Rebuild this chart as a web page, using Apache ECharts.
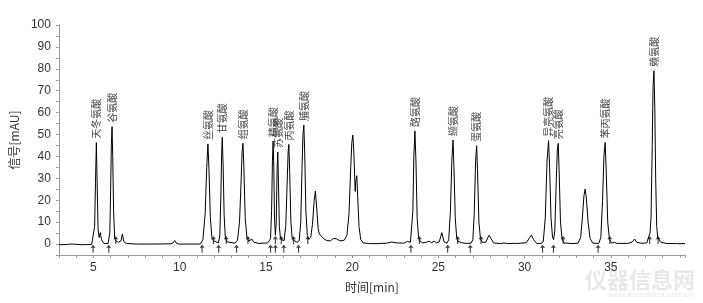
<!DOCTYPE html>
<html><head><meta charset="utf-8">
<script src="https://cdn.jsdelivr.net/npm/echarts@6/dist/echarts.min.js"></script>
<style>html,body{margin:0;padding:0;background:#fff}#c{width:703px;height:303px}</style>
</head><body><div id="c"></div>
<script>
// chromatogram trace: [time(min), signal(mAU)]
const trace = [[3.0,-0.3],[3.5,-0.2],[3.65,0],[3.73,0.9],[3.8,0],[4.3,-0.3],[4.9,-0.2],[5.0,0.3],[5.07,8],[5.12,28],[5.17,46.3],[5.22,26],[5.27,7],[5.33,3],[5.4,5.2],[5.47,2],[5.6,0.3],[5.85,0.2],[5.95,5],[6.0,25],[6.04,45],[6.08,53.6],[6.12,40],[6.17,15],[6.23,3],[6.3,1.5],[6.45,0.8],[6.6,1.5],[6.68,4.6],[6.76,1.2],[6.9,0.3],[7.5,0],[8.5,0],[9.5,0.1],[9.62,0.5],[9.71,1.6],[9.8,0.5],[9.95,0],[10.5,0],[11.2,0],[11.35,2],[11.48,14],[11.57,35],[11.64,45.7],[11.7,34],[11.78,12],[11.87,3],[11.96,1.5],[12.05,0.8],[12.25,0.5],[12.33,4],[12.39,22],[12.43,40],[12.47,48.7],[12.52,36],[12.58,13],[12.65,3],[12.75,1],[13.2,0.4],[13.35,1.5],[13.47,10],[13.57,30],[13.62,42],[13.67,46],[13.72,36],[13.8,12],[13.9,3],[14.0,1.3],[14.1,1.3],[14.19,2.2],[14.3,0.8],[14.6,0.3],[15.1,0.5],[15.2,1.5],[15.27,2.5],[15.33,15],[15.38,38],[15.42,47],[15.46,35],[15.5,12],[15.55,4],[15.6,10],[15.65,34],[15.69,42],[15.73,28],[15.78,8],[15.85,2.2],[15.95,1.5],[16.05,1.5],[16.15,8],[16.25,32],[16.29,42],[16.33,45.5],[16.38,33],[16.45,10],[16.52,3],[16.6,1.8],[16.8,0.8],[16.93,1.5],[17.02,10],[17.1,36],[17.15,50],[17.2,54.3],[17.25,42],[17.32,15],[17.4,4],[17.48,2.2],[17.6,3],[17.7,9],[17.8,20],[17.87,24.2],[17.95,16],[18.03,7],[18.1,4.6],[18.2,4.2],[18.35,2.5],[18.55,1.5],[18.75,1.5],[18.9,2.5],[19.0,3.3],[19.1,2.4],[19.3,1.4],[19.55,1.8],[19.7,4],[19.82,14],[19.92,35],[19.98,46],[20.04,49.8],[20.1,42],[20.15,30],[20.18,24],[20.22,29],[20.27,31.2],[20.32,22],[20.4,8],[20.5,2],[20.65,0.5],[21.0,0.2],[21.5,0.2],[22.0,0.4],[22.3,0.9],[22.6,0.5],[23.0,0.4],[23.2,1.2],[23.28,2.1],[23.38,0.8],[23.45,1.5],[23.52,15],[23.58,40],[23.64,51.6],[23.7,38],[23.77,12],[23.85,3],[23.95,1.2],[24.1,0.5],[24.3,0.8],[24.47,1.3],[24.6,0.6],[24.76,1.3],[24.9,0.5],[25.05,1],[25.2,5.2],[25.33,1],[25.5,0.4],[25.6,2],[25.7,15],[25.78,38],[25.85,47.5],[25.9,36],[25.98,12],[26.06,3],[26.14,1.2],[26.22,1.6],[26.35,0.6],[26.6,0.3],[26.9,0.4],[27.0,2],[27.08,14],[27.16,38],[27.22,44.9],[27.27,34],[27.35,10],[27.44,2.5],[27.55,0.8],[27.75,0.8],[27.87,3],[27.95,4],[28.05,2.5],[28.2,0.5],[28.6,0.2],[28.8,0.5],[29.0,0.2],[29.4,0.3],[29.5,0.7],[29.6,0.3],[29.7,1],[29.8,0.4],[30.1,0.6],[30.28,2.8],[30.4,4.1],[30.52,2],[30.7,0.3],[30.95,0.2],[31.08,1],[31.2,12],[31.3,38],[31.39,47.2],[31.45,35],[31.53,12],[31.62,3],[31.68,2],[31.75,6],[31.84,30],[31.9,43],[31.95,46],[32.0,34],[32.08,10],[32.17,2.5],[32.28,0.5],[32.8,0.2],[33.1,0.4],[33.25,3],[33.35,12],[33.44,22],[33.51,25.1],[33.58,21],[33.68,10],[33.8,2.5],[33.95,0.4],[34.3,0.3],[34.42,3],[34.52,20],[34.6,40],[34.67,46.4],[34.73,34],[34.82,10],[34.92,2],[35.05,0.4],[35.2,0.8],[35.35,0.3],[36.0,0.3],[36.25,1],[36.38,2.3],[36.5,0.8],[36.8,0.3],[37.1,0.6],[37.2,3.5],[37.27,4.9],[37.33,12],[37.4,45],[37.45,72],[37.5,79.1],[37.55,62],[37.6,30],[37.66,8],[37.72,3],[37.8,2.5],[37.9,0.8],[38.2,0.3],[38.8,0.2],[39.3,0.2]];

// named peaks
const peakNames = ['天冬氨酸','谷氨酸','丝氨酸','甘氨酸','组氨酸','精氨酸','苏氨酸','丙氨酸','脯氨酸','酪氨酸','缬氨酸','蛋氨酸','异亮氨酸','亮氨酸','苯丙氨酸','赖氨酸'];
const peakTimes = [5.17,6.08,11.64,12.47,13.67,15.42,15.69,16.33,17.2,23.64,25.85,27.22,31.39,31.95,34.67,37.5];
const peakHeights = [46.3,53.6,45.7,48.7,46,47,42,45.5,54.3,51.6,47.5,44.9,47.2,46,46.4,79.1];

// integration event marks
const startTimes = [4.98,5.89,11.3,12.26,13.3,15.27,15.55,16.04,16.89,23.41,25.54,26.85,31.04,31.67,34.26];
const endTimes = [6.29,11.96,12.7,13.96,15.55,15.89,16.6,17.43,23.9,26.12,27.47,32.23,34.94,37.25,37.74];
const startLevel = -2.1, endLevel = 1.8;

const xTickLabels = [5,10,15,20,25,30,35];
const yTickLabels = [0,10,20,30,40,50,60,70,80,90,100];

const peakData = peakNames.map((n,i)=>({name:n, value:[peakTimes[i], peakHeights[i]]}));
const arrow = 'path://M4,5 L6,5 L6,20 L4,20 Z M0.5,8 L5,0 L9.5,8 Z';
const font = '"Liberation Sans", Arial, sans-serif';

const chart = echarts.init(document.getElementById('c'), null, {renderer:'canvas'});
chart.setOption({
  backgroundColor:'#fff',
  animation:false,
  grid:{left:58, right:18, top:25, bottom:48},
  xAxis:{
    type:'value', min:3, max:39.3, interval:1,
    name:'时间[min]', nameLocation:'middle', nameGap:26,
    nameTextStyle:{color:'#333', fontSize:12, fontFamily:'"Noto Sans CJK SC", '+font},
    axisLine:{show:true, onZero:false, lineStyle:{color:'#9a9a9a', width:1}},
    axisTick:{show:true, length:3, lineStyle:{color:'#9a9a9a'}},
    axisLabel:{color:'#333', fontSize:12, fontFamily:font, margin:7,
      formatter:v=> xTickLabels.includes(Math.round(v*1000)/1000) ? String(v) : ''},
    splitLine:{show:false}
  },
  yAxis:{
    type:'value', min:-5, max:100, interval:5,
    name:'信号[mAU]', nameLocation:'middle', nameGap:38, nameRotate:90,
    nameTextStyle:{color:'#333', fontSize:12, fontFamily:'"Noto Sans CJK SC", '+font},
    axisLine:{show:true, lineStyle:{color:'#9a9a9a', width:1}},
    axisTick:{show:true, length:3, lineStyle:{color:'#9a9a9a'}},
    axisLabel:{color:'#333', fontSize:12, fontFamily:font, margin:8,
      formatter:v=> yTickLabels.includes(v) ? String(v) : ''},
    splitLine:{show:false}
  },
  graphic:[
    {type:'text', right:8, bottom:12, silent:true,
      style:{text:'仪器信息网', fill:'rgba(190,190,200,0.35)', font:'bold 22px "Noto Sans CJK SC"'}},
    {type:'text', right:10, bottom:4, silent:true,
      style:{text:'www.instrument.com.cn', fill:'rgba(190,190,200,0.35)', font:'8px '+font}}
  ],
  series:[
    {type:'line', data:trace, showSymbol:false, smooth:false,
      lineStyle:{color:'#000', width:1}, z:3},
    {type:'scatter', data:peakData, symbolSize:0, z:4,
      label:{show:true, position:'top', distance:4, rotate:90, align:'left', verticalAlign:'middle',
        formatter:'{b}', color:'#111', fontSize:10, fontFamily:'"Noto Sans CJK SC", sans-serif'}},
    {type:'scatter', data:startTimes.map(t=>[t,startLevel]), symbol:arrow, symbolSize:[5,8],
      itemStyle:{color:'#111'}, z:5},
    {type:'scatter', data:endTimes.map(t=>[t,endLevel]), symbol:arrow, symbolSize:[5,8],
      itemStyle:{color:'#111'}, z:5}
  ]
});
</script></body></html>
